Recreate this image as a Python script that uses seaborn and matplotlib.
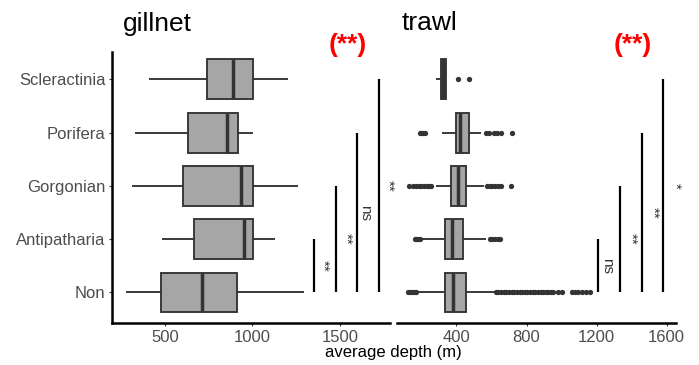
import numpy as np
import pandas as pd
import matplotlib
matplotlib.use("Agg")
import matplotlib.pyplot as plt
import seaborn as sns

# ---------------- data ----------------
taxa = ["Scleractinia", "Porifera", "Gorgonian", "Antipatharia", "Non"]

# gillnet: five-number summaries (whisker low, Q1, median, Q3, whisker high)
g_lo = [409, 331, 313, 485, 275]
g_q1 = [742, 633, 603, 666, 477]
g_med = [890, 852, 933, 951, 710]
g_q3 = [1001, 915, 1005, 1005, 913]
g_hi = [1201, 1001, 1262, 1129, 1296]

# trawl: five-number summaries
t_lo = [282, 320, 282, 192, 171]
t_q1 = [314, 397, 367, 337, 333]
t_med = [325, 419, 410, 375, 381]
t_q3 = [343, 469, 453, 438, 457]
t_hi = [343, 543, 560, 571, 619]

# trawl outliers
t_out = {
    "Scleractinia": [409, 472],
    "Porifera": [190, 200, 210, 219, 567, 586, 613, 629, 653, 720],
    "Gorgonian": [127, 150, 170, 185, 200, 215, 230, 245, 257,
                  575, 590, 605, 620, 640, 657, 709],
    "Antipatharia": [162, 172, 182, 190, 592, 605, 620, 635, 648],
    "Non": [124, 135, 146, 157, 167,
            625, 640, 655, 670, 685, 700, 715, 730, 745, 760, 775, 790,
            805, 820, 835, 850, 865, 880, 895, 910, 925, 940, 952,
            980, 1003, 1057, 1075, 1095, 1115, 1140, 1162],
}

# pairwise significance (each vs. "Non")
g_sig_to = [3, 2, 1, 0]
g_sig_labels = ["**", "**", "ns", "**"]
g_sig_x = [1350, 1476, 1599, 1725]
g_sig_lx = [1405, 1533, 1643, 1776]

t_sig_to = [3, 2, 1, 0]
t_sig_labels = ["ns", "**", "**", "*"]
t_sig_x = [1209, 1333, 1457, 1581]
t_sig_lx = [1257, 1394, 1523, 1645]

overall_label = "(**)"

# ---------------- styling ----------------
sns.set_theme(style="white")
plt.rcParams["font.family"] = ["Liberation Sans", "DejaVu Sans"]

W, H = 699, 365
fig = plt.figure(figsize=(W / 100, H / 100), dpi=100)


def px_axes(x0, x1, y0, y1):
    return fig.add_axes([x0 / W, 1 - y1 / H, (x1 - x0) / W, (y1 - y0) / H])


ax1 = px_axes(112, 390, 51.7, 323.3)
ax2 = px_axes(397, 676, 51.7, 323.3)

FILL = "#A6A6A6"
EDGE = "#333333"


def summary_frame(lo, q1, med, q3, hi):
    rows = []
    for i, t in enumerate(taxa):
        for v in (lo[i], q1[i], med[i], q3[i], hi[i]):
            rows.append((t, v))
    return pd.DataFrame(rows, columns=["taxon", "depth"])


def draw_boxes(ax, df):
    sns.boxplot(data=df, x="depth", y="taxon", order=taxa, orient="h", ax=ax,
                color=FILL, saturation=1, linecolor=EDGE, linewidth=1.35,
                width=0.75, whis=(0, 100), fliersize=0, showcaps=False,
                medianprops=dict(linewidth=2.5, color=EDGE))


g_df = summary_frame(g_lo, g_q1, g_med, g_q3, g_hi)
t_df = summary_frame(t_lo, t_q1, t_med, t_q3, t_hi)

draw_boxes(ax1, g_df)
draw_boxes(ax2, t_df)

out_rows = [(t, v) for t in taxa for v in t_out[t]]
out_df = pd.DataFrame(out_rows, columns=["taxon", "depth"])
sns.stripplot(data=out_df, x="depth", y="taxon", order=taxa, orient="h",
              jitter=False, color=EDGE, size=3.8, linewidth=0, ax=ax2)


def sig(ax, xs, tos, labels, lxs):
    for x, k, lab, lx in zip(xs, tos, labels, lxs):
        ax.vlines(x, k, 4, colors="black", linewidth=1.6)
        ax.text(lx, (k + 4) / 2, lab, rotation=270, ha="center", va="center",
                fontsize=11, color="#333333", clip_on=False)


sig(ax1, g_sig_x, g_sig_to, g_sig_labels, g_sig_lx)
sig(ax2, t_sig_x, t_sig_to, t_sig_labels, t_sig_lx)

for ax in (ax1, ax2):
    ax.set_ylim(4.578, -0.518)
    ax.set_xlabel("")
    ax.set_ylabel("")
    ax.tick_params(axis="both", bottom=True, left=True, length=2.5, width=0.8,
                   color="#333333", labelsize=12, labelcolor="#4D4D4D", pad=2)
    for s in ax.spines.values():
        s.set_linewidth(1.8)
        s.set_color("black")

ax1.set_xlim(197, 1786)
ax1.set_xticks([500, 1000, 1500])
ax2.set_xlim(61, 1653)
ax2.set_xticks([400, 800, 1200, 1600])

sns.despine(ax=ax1)
sns.despine(ax=ax2, left=True)
ax2.tick_params(axis="y", left=False, labelleft=False)

# titles and annotations
fig.text(123 / W, 1 - 30.5 / H, "gillnet", fontsize=19, ha="left", va="baseline", color="black")
fig.text(402 / W, 1 - 30.5 / H, "trawl", fontsize=19, ha="left", va="baseline", color="black")
fig.text(347.5 / W, 1 - 52 / H, overall_label, fontsize=19, fontweight="bold",
         color="#FF0000", ha="center", va="baseline")
fig.text(633 / W, 1 - 52 / H, overall_label, fontsize=19, fontweight="bold",
         color="#FF0000", ha="center", va="baseline")
fig.text(393.5 / W, 1 - 357.5 / H, "average depth (m)", fontsize=12,
         ha="center", va="baseline", color="black")

fig.savefig("out.png", dpi=100)
